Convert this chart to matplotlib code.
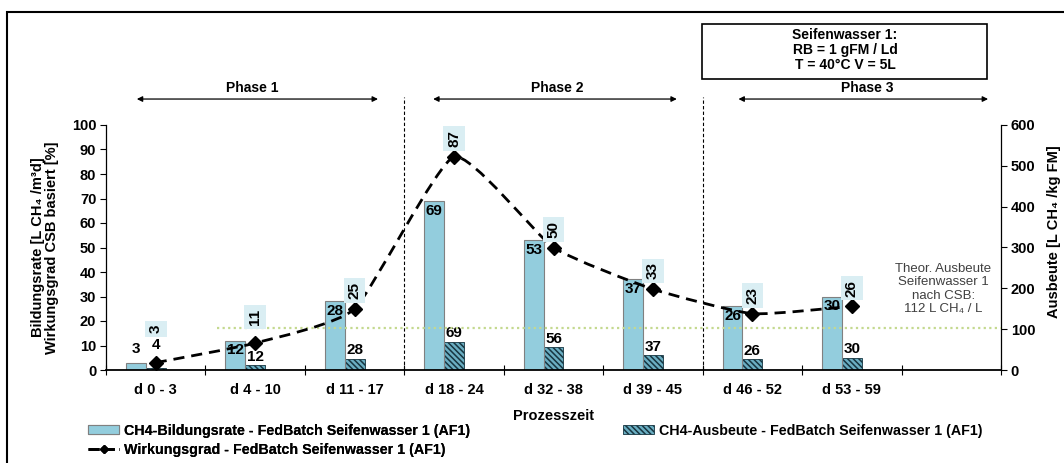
import numpy as np
import matplotlib
matplotlib.use('Agg')
import matplotlib.pyplot as plt
from matplotlib.path import Path
from matplotlib.patches import PathPatch, Rectangle, Patch
from matplotlib.lines import Line2D

plt.rcParams['font.family'] = ['Liberation Sans', 'DejaVu Sans']
plt.rcParams['hatch.linewidth'] = 1.1

# data
categories = ['d 0 - 3', 'd 4 - 10', 'd 11 - 17', 'd 18 - 24',
              'd 32 - 38', 'd 39 - 45', 'd 46 - 52', 'd 53 - 59', '']
bildungsrate = [3, 12, 28, 69, 53, 37, 26, 30]      # left axis
ausbeute = [4, 12, 28, 69, 56, 37, 26, 30]          # right axis
wirkungsgrad = [3, 11, 25, 87, 50, 33, 23, 26]      # left axis
theor_ausbeute = 103                                # right axis, dotted line

blue = '#93cddd'
hatch_face = '#6aaec2'
hatch_dark = '#173540'
label_bg = '#daeef3'
HATCH = '\\\\\\\\\\\\'


def smooth_path(xs, ys, k=1 / 12):
    # cardinal spline -> bezier, gentle like excel's smoothed line
    pts = np.column_stack([xs, ys]).astype(float)
    verts = [pts[0]]
    codes = [Path.MOVETO]
    n = len(pts)
    for i in range(n - 1):
        p0 = pts[max(i - 1, 0)]
        p1 = pts[i]
        p2 = pts[i + 1]
        p3 = pts[min(i + 2, n - 1)]
        verts += [p1 + (p2 - p0) * k, p2 - (p3 - p1) * k, p2]
        codes += [Path.CURVE4] * 3
    return Path(verts, codes)


fig = plt.figure(figsize=(10.64, 4.63), dpi=100)
ax = fig.add_axes([106 / 1064, 93 / 463, 895 / 1064, 245 / 463])
ax2 = ax.twinx()
ax.set_zorder(ax2.get_zorder() + 1)
ax.patch.set_visible(False)

x = np.arange(len(bildungsrate))

# bars
ax.bar(x - 0.2, bildungsrate, width=0.2, color=blue, edgecolor='#808080', linewidth=0.8)
ax2.bar(x, ausbeute, width=0.2, color=hatch_face, edgecolor=hatch_dark,
        hatch=HATCH, linewidth=0.6)

for i, v in enumerate(bildungsrate):
    if i == 0:
        ax.annotate(str(v), (i - 0.2, v), xytext=(0, 5), textcoords='offset points',
                    ha='center', va='bottom', fontsize=11, fontweight='bold')
    else:
        ax.annotate(str(v), (i - 0.2, v), xytext=(0, -2), textcoords='offset points',
                    ha='center', va='top', fontsize=11, fontweight='bold')
for i, v in enumerate(ausbeute):
    off = 12 if i == 0 else 1
    ax2.annotate(str(v), (i, v), xytext=(0, off), textcoords='offset points',
                 ha='center', va='bottom', fontsize=11, fontweight='bold')

# efficiency line (smoothed, dashed) with diamonds
path = smooth_path(x, wirkungsgrad)
ax.add_patch(PathPatch(path, fill=False, edgecolor='black', linewidth=2.0,
                       linestyle=(0, (4, 2.5)), zorder=4))
ax.plot(x, wirkungsgrad, linestyle='none', marker='D', color='black', markersize=7, zorder=5)
for i, v in enumerate(wirkungsgrad):
    off = 21 if i == 0 else (13 if i == 1 else 7)
    ax.annotate(str(v), (i, v), xytext=(0, off), textcoords='offset points',
                ha='center', va='bottom', rotation=90, fontsize=11, fontweight='bold',
                bbox=dict(boxstyle='square,pad=0.25', facecolor=label_bg, edgecolor='none'),
                zorder=6)

# theoretical yield line
ax.plot([0.62, 8.5], [theor_ausbeute, theor_ausbeute], transform=ax2.transData,
        color='#c4d98f', linestyle=(0, (1, 1.5)), linewidth=1.6, zorder=3)
ax.text(7.92, 33, 'Theor. Ausbeute\nSeifenwasser 1\nnach CSB:\n112 L CH₄ / L',
        ha='center', va='center', fontsize=9.5, color='#404040', linespacing=1.15)

# axes styling
ax.set_xlim(-0.5, len(categories) - 0.5)
ax.set_ylim(0, 100)
ax2.set_ylim(0, 600)
ax.set_yticks(np.arange(0, 101, 10))
ax2.set_yticks(np.arange(0, 601, 100))
ax.set_xticks(np.arange(-0.5, len(categories), 1))
ax.set_xticklabels([])
ax.set_xticks(x.tolist() + [8], minor=True)
ax.set_xticklabels(categories, minor=True, fontsize=10.5, fontweight='bold')
ax.tick_params(axis='x', which='major', direction='inout', length=7, width=0.8)
ax.tick_params(axis='x', which='minor', length=0, pad=9)
ax.tick_params(axis='y', direction='out', length=4, width=0.8, pad=3, labelsize=10.5)
ax2.tick_params(axis='y', direction='out', length=4, width=0.8, pad=3, labelsize=10.5)
for t in ax.get_yticklabels() + ax2.get_yticklabels():
    t.set_fontweight('bold')

for a in (ax, ax2):
    a.spines['top'].set_visible(False)
ax.spines['right'].set_visible(False)
ax2.spines['left'].set_visible(False)
ax.spines['bottom'].set_linewidth(1.3)
ax.spines['left'].set_linewidth(0.9)
ax2.spines['right'].set_linewidth(0.9)
ax2.spines['bottom'].set_visible(False)

ax.set_xlabel('Prozesszeit', fontsize=10.5, fontweight='bold', labelpad=9)
ax.set_ylabel('Bildungsrate [L CH₄ /m³d]\nWirkungsgrad CSB basiert [%]',
              fontsize=10.5, fontweight='bold', labelpad=9, linespacing=1.0)
fig.text(1054 / 1064, 0.5, 'Ausbeute [L CH₄ /kg FM]', rotation=90, ha='center',
         va='center', fontsize=10.5, fontweight='bold')

# phase separators and arrows
for xs in (2.5, 5.5):
    ax.axvline(xs, ymin=0, ymax=1.114, color='black', linestyle=(0, (3, 2)),
               linewidth=0.8, clip_on=False)
phases = [('Phase 1', -0.19, 2.235, 0.97), ('Phase 2', 2.79, 5.24, 4.04),
          ('Phase 3', 5.86, 8.37, 7.16)]
for name, x0, x1, xt in phases:
    ax.annotate('', xy=(x0, 1.106), xytext=(x1, 1.106), xycoords=('data', 'axes fraction'),
                textcoords=('data', 'axes fraction'),
                arrowprops=dict(arrowstyle='<|-|>', color='black', lw=0.9,
                                mutation_scale=8, shrinkA=0, shrinkB=0),
                annotation_clip=False)
    ax.text(xt, 1.15, name, transform=ax.get_xaxis_transform(), ha='center',
            va='center', fontsize=10, fontweight='bold')

# info box
fig.add_artist(Rectangle((702 / 1064, 1 - 79 / 463), 285 / 1064, 55 / 463,
                         transform=fig.transFigure, fill=False, edgecolor='black', linewidth=1.2))
fig.text(845 / 1064, 1 - 50 / 463, 'Seifenwasser 1:\nRB = 1 gFM / Ld\nT = 40°C V = 5L',
         ha='center', va='center', fontsize=10, fontweight='bold', linespacing=1.1)

# outer frame
fig.add_artist(Rectangle((7 / 1064, -0.1), 1.2, 1 - 12 / 463 + 0.1,
                         transform=fig.transFigure, fill=False, edgecolor='black', linewidth=1.5))

# legends
h_blue = Patch(facecolor=blue, edgecolor='#808080', linewidth=0.8)
h_line = Line2D([], [], color='black', linestyle=(0, (4, 1.5)), linewidth=2, marker='D', markersize=4)
h_hatch = Patch(facecolor=hatch_face, edgecolor=hatch_dark, hatch=HATCH, linewidth=0.6)
leg_kw = dict(loc='upper left', frameon=False, prop={'size': 10.3, 'weight': 'bold'},
              handlelength=2.2, handletextpad=0.3, borderpad=0, borderaxespad=0,
              handleheight=0.6)
leg1 = fig.legend([h_blue, h_line],
                  ['CH4-Bildungsrate - FedBatch Seifenwasser 1 (AF1)',
                   'Wirkungsgrad - FedBatch Seifenwasser 1 (AF1)'],
                  bbox_to_anchor=(88 / 1064, 1 - 424 / 463), labelspacing=0.35, **leg_kw)
fig.legend([h_hatch], ['CH4-Ausbeute - FedBatch Seifenwasser 1 (AF1)'],
           bbox_to_anchor=(623 / 1064, 1 - 424 / 463), **leg_kw)
fig.add_artist(leg1)

fig.savefig('out.png', dpi=100)
